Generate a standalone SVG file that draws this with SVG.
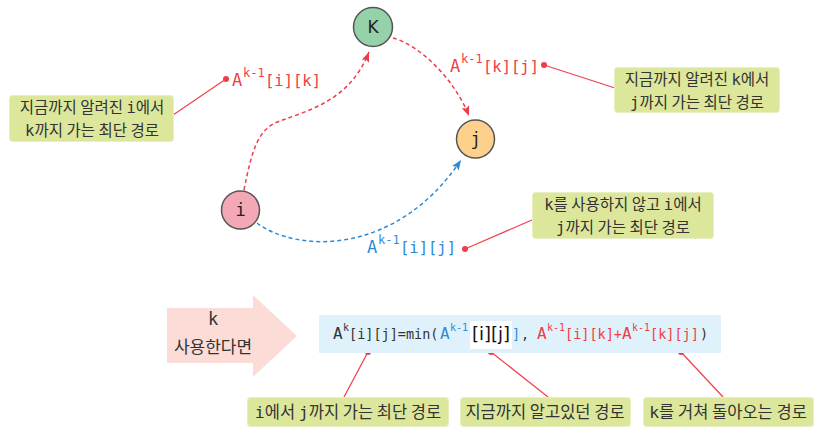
<svg xmlns="http://www.w3.org/2000/svg" width="827" height="435" viewBox="0 0 827 435">
<defs>
<style>
.node{stroke:#555;stroke-width:1.5}
.nt{font-family:"DejaVu Sans Mono",monospace;font-size:17px;fill:#222;text-anchor:middle}
.box{fill:#dce79b;stroke:#e9efc4;stroke-width:1}
.bt{font-family:"Noto Sans CJK KR","Noto Sans",sans-serif;font-size:15.5px;fill:#333;text-anchor:middle}
.bb{font-size:16.5px}
.m{font-family:"DejaVu Sans Mono",monospace}
.lbl{font-family:"DejaVu Sans Mono",monospace;font-size:17px}
.br{font-family:"DejaVu Sans Mono",monospace;font-size:15.5px}
.sup{font-family:"DejaVu Sans Mono",monospace;font-size:12px}
.red{fill:#f03c46}
.blue{fill:#2e8bd3}
.dark{fill:#333}
.lead{stroke:#f04450;stroke-width:1.3;fill:none}
.dash{fill:none;stroke-width:1.5;stroke-dasharray:4 3}
.f{font-family:"DejaVu Sans Mono",monospace;font-size:13.5px}
.fa{font-family:"DejaVu Sans Mono",monospace;font-size:16px}
.fs{font-family:"DejaVu Sans Mono",monospace;font-size:10px}
</style>
<marker id="ar" markerUnits="userSpaceOnUse" markerWidth="10" markerHeight="8" viewBox="0 0 10 8" refX="10" refY="4" orient="auto"><path d="M0,0 L10,4 L0,8 L2,4 z" fill="#f03c46"/></marker>
<marker id="ab" markerUnits="userSpaceOnUse" markerWidth="10" markerHeight="8" viewBox="0 0 10 8" refX="10" refY="4" orient="auto"><path d="M0,0 L10,4 L0,8 L2,4 z" fill="#2e8bd3"/></marker>
</defs>
<rect width="827" height="435" fill="#fff"/>

<g id="connectors">
<path class="dash" stroke="#f03c46" d="M244 190 C252 150,258 128,280 121 C310 110,350 100,369 52" marker-end="url(#ar)"/>
<path class="dash" stroke="#f03c46" d="M393 38 C420 45,455 80,469 116" marker-end="url(#ar)"/>
<path class="dash" stroke="#2e8bd3" d="M257 223 C295 252,395 258,461 160" marker-end="url(#ab)"/>
<line class="lead" x1="226" y1="79" x2="173" y2="115"/>
<line class="lead" x1="544" y1="65" x2="615" y2="88"/>
<line class="lead" x1="465" y1="249" x2="532" y2="220"/>
<line class="lead" x1="368" y1="352" x2="344" y2="397"/>
<line class="lead" x1="491" y1="352" x2="548" y2="397"/>
<line class="lead" x1="681" y1="352" x2="723" y2="397"/>
<g fill="#f03c46">
<circle cx="226" cy="79" r="3"/>
<circle cx="544" cy="65" r="3"/>
<circle cx="465" cy="249" r="3"/>
<circle cx="368" cy="352" r="3"/>
<circle cx="491" cy="352" r="3"/>
<circle cx="681" cy="352" r="3"/>
</g>
</g>

<g id="node-K"><circle class="node" cx="373" cy="27" r="19.5" fill="#95d1a9"/><text x="373" y="33" class="nt" style="font-family:'DejaVu Sans',sans-serif;font-size:17px">K</text></g>
<g id="node-j"><circle class="node" cx="475.5" cy="139" r="19" fill="#fdd08c"/><text x="475.5" y="145" class="nt">j</text></g>
<g id="node-i"><circle class="node" cx="240.5" cy="210" r="19" fill="#f4a7b5"/><text x="240.5" y="216" class="nt">i</text></g>

<g id="label-ik">
<text class="lbl red" x="232" y="86">A</text>
<text class="sup red" x="243" y="77">k-1</text>
<text class="br red" x="265" y="86">[i][k]</text>
</g>
<g id="label-kj">
<text class="lbl red" x="450" y="72">A</text>
<text class="sup red" x="461" y="63">k-1</text>
<text class="br red" x="483" y="72">[k][j]</text>
</g>
<g id="label-ij">
<text class="lbl blue" x="367" y="253">A</text>
<text class="sup blue" x="378" y="244">k-1</text>
<text class="br blue" x="400" y="253">[i][j]</text>
</g>

<g id="note-ik">
<rect class="box" x="9.5" y="95.5" width="164" height="46" rx="3"/>
<text class="bt" x="92" y="113">지금까지 알려진 <tspan class="m">i</tspan>에서</text>
<text class="bt" x="92" y="135.5"><tspan class="m">k</tspan>까지 가는 최단 경로</text>
</g>
<g id="note-kj">
<rect class="box" x="614.5" y="67.5" width="165" height="45" rx="3"/>
<text class="bt" x="697" y="85">지금까지 알려진 <tspan class="m">k</tspan>에서</text>
<text class="bt" x="697" y="107.5"><tspan class="m">j</tspan>까지 가는 최단 경로</text>
</g>
<g id="note-ij">
<rect class="box" x="532.5" y="192.5" width="181" height="46" rx="3"/>
<text class="bt" x="623" y="210"><tspan class="m">k</tspan>를 사용하지 않고 <tspan class="m">i</tspan>에서</text>
<text class="bt" x="623" y="232.5"><tspan class="m">j</tspan>까지 가는 최단 경로</text>
</g>

<g id="arrow-k">
<polygon points="167,308 253,308 253,295 297,336 253,377 253,363 167,363" fill="#fcdcd6"/>
<text class="bt" x="213" y="325" style="font-size:17px"><tspan class="m">k</tspan></text>
<text class="bt" x="213" y="353" style="font-size:17px">사용한다면</text>
</g>

<g id="formula">
<rect x="319" y="315" width="402" height="38" fill="#dff2fb"/>
<text class="fa dark" x="333" y="339">A</text>
<text class="fs dark" x="343" y="331">k</text>
<text class="f dark" x="349" y="339">[i][j]=min(</text>
<text class="fa blue" x="440" y="339">A</text>
<text class="fs blue" x="450" y="331">k-1</text>
<rect x="470" y="321" width="42" height="28" fill="#fff"/>
<text x="472" y="340" style="font-family:'DejaVu Sans',sans-serif;font-size:18px" fill="#111">[i][j]</text>
<text class="f blue" x="512" y="339">]</text>
<text class="f dark" x="521" y="339">,</text>
<text class="fa red" x="537" y="339">A</text>
<text class="fs red" x="547" y="331">k-1</text>
<text class="f red" x="565" y="339">[i][k]+</text>
<text class="fa red" x="622" y="339">A</text>
<text class="fs red" x="632" y="331">k-1</text>
<text class="f red" x="650" y="339">[k][j]</text>
<text class="f dark" x="700" y="339">)</text>
</g>

<g id="note-a">
<rect class="box" x="247.5" y="397.5" width="201" height="29" rx="3"/>
<text class="bt bb" x="348" y="418"><tspan class="m">i</tspan>에서 <tspan class="m">j</tspan>까지 가는 최단 경로</text>
</g>
<g id="note-b">
<rect class="box" x="460.5" y="397.5" width="170" height="29" rx="3"/>
<text class="bt bb" x="545" y="418">지금까지 알고있던 경로</text>
</g>
<g id="note-c">
<rect class="box" x="643.5" y="397.5" width="170" height="29" rx="3"/>
<text class="bt bb" x="728" y="418"><tspan class="m">k</tspan>를 거쳐 돌아오는 경로</text>
</g>
</svg>
